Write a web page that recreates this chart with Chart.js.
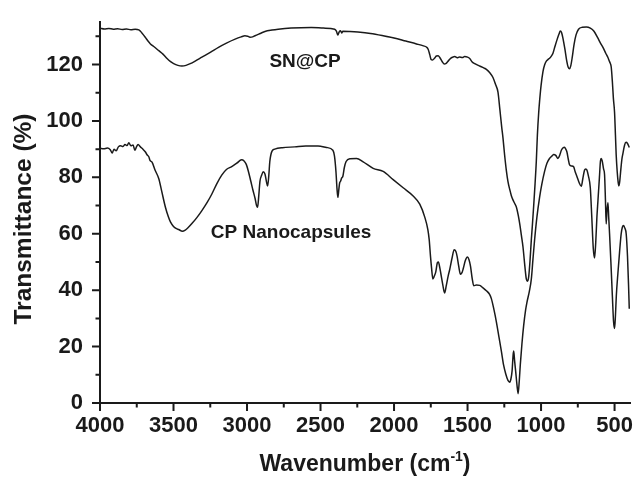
<!DOCTYPE html>
<html>
<head>
<meta charset="utf-8">
<script src="https://cdn.jsdelivr.net/npm/chart.js@4.4.1/dist/chart.umd.min.js"></script>
<style>
  html, body { margin: 0; padding: 0; background: #fff; }
  #wrap { width: 638px; height: 478px; }
</style>
</head>
<body>
<div id="wrap"><canvas id="ftir"></canvas></div>
<script>
// SN@CP spectrum (wavenumber, transmittance)
const snWave = [4000, 3970, 3940, 3910, 3880, 3850, 3820, 3790, 3760, 3736, 3715, 3691, 3675, 3657, 3630, 3600, 3570, 3544, 3520, 3499,
  3470, 3443, 3415, 3386, 3350, 3307, 3250, 3194, 3140, 3081, 3040, 3014, 2995, 2980, 2962, 2946, 2910, 2878, 2830, 2788,
  2700, 2563, 2480, 2404, 2392, 2382, 2373, 2364, 2356, 2348, 2300, 2246, 2160, 2074, 2000, 1920, 1847, 1800, 1780, 1768,
  1757, 1748, 1738, 1725, 1712, 1700, 1688, 1672, 1658, 1648, 1632, 1615, 1600, 1587, 1570, 1555, 1535, 1520, 1500, 1485,
  1470, 1451, 1420, 1390, 1372, 1350, 1327, 1310, 1293, 1280, 1268, 1259, 1248, 1236, 1225, 1212, 1202, 1191, 1180, 1168,
  1155, 1145, 1134, 1123, 1112, 1100, 1092, 1084, 1075, 1066, 1059, 1050, 1041, 1032, 1025, 1016, 1010, 1000, 987, 975,
  964, 952, 942, 930, 919, 905, 890, 878, 869, 860, 850, 838, 826, 815, 806, 798, 788, 776, 762, 745,
  720, 692, 665, 640, 615, 595, 579, 560, 545, 538, 530, 523, 515, 508, 500, 494, 489, 482, 476, 471,
  465, 457, 450, 443, 432, 422, 412, 400];
const snT = [132.9, 132.6, 132.8, 132.5, 132.7, 132.4, 132.6, 132.3, 132.5, 132.3, 131.2, 129.6, 128.4, 127.3, 126.2, 124.9, 123.6, 122.1, 121.0, 120.3,
  119.7, 119.5, 119.7, 120.3, 121.3, 122.6, 124.3, 126.1, 127.6, 129.0, 129.8, 130.2, 130.0, 129.7, 129.8, 130.2, 131.0, 131.7, 132.2, 132.5,
  132.9, 133.1, 132.9, 132.5, 131.8, 130.5, 131.6, 132.0, 131.2, 131.8, 131.7, 131.5, 131.0, 130.2, 129.4, 128.3, 127.3, 126.6, 126.2, 125.4,
  123.5, 121.8, 121.6, 122.2, 123.0, 123.1, 122.4, 121.0, 120.2, 120.3, 121.2, 122.2, 122.6, 122.8, 122.4, 122.7, 122.5, 122.8, 122.6, 122.1,
  121.0, 120.3, 119.5, 118.8, 118.3, 117.2, 115.4, 113.0, 110.2, 104.0, 98.0, 94.0, 88.0, 82.4, 78.5, 75.5, 73.5, 72.0, 70.8, 69.5,
  66.5, 63.5, 59.5, 55.4, 49.5, 43.9, 43.2, 44.8, 50.5, 58.0, 63.0, 70.0, 77.5, 86.0, 94.9, 103.0, 107.0, 112.5, 117.5, 120.0,
  121.2, 121.8, 122.2, 123.0, 124.0, 126.5, 129.0, 130.8, 131.9, 131.3, 129.0, 125.5, 121.5, 119.0, 118.5, 119.5, 122.5, 127.0, 130.5, 132.5,
  133.2, 133.3, 132.9, 131.8, 129.5, 127.5, 126.1, 124.0, 122.5, 121.5, 120.5, 119.2, 114.0, 108.0, 103.0, 95.0, 88.0, 82.0, 78.5, 77.0,
  78.5, 83.0, 86.5, 88.5, 91.4, 92.4, 92.0, 90.6];

// CP Nanocapsules spectrum (wavenumber, transmittance)
const cpWave = [4000, 3975, 3950, 3930, 3917, 3905, 3890, 3875, 3860, 3845, 3830, 3815, 3804, 3790, 3775, 3763, 3752, 3741, 3725, 3705,
  3691, 3680, 3668, 3660, 3646, 3625, 3600, 3580, 3555, 3535, 3521, 3500, 3480, 3465, 3440, 3420, 3400, 3375, 3340, 3307,
  3270, 3240, 3205, 3172, 3140, 3104, 3070, 3037, 3020, 3005, 2990, 2975, 2960, 2945, 2935, 2928, 2920, 2912, 2900, 2890,
  2878, 2868, 2860, 2852, 2845, 2830, 2811, 2760, 2675, 2600, 2517, 2460, 2416, 2405, 2395, 2388, 2382, 2376, 2370, 2364,
  2356, 2348, 2338, 2326, 2300, 2255, 2210, 2142, 2074, 2006, 1938, 1870, 1825, 1791, 1770, 1761, 1752, 1745, 1736, 1726,
  1716, 1705, 1698, 1690, 1682, 1668, 1656, 1645, 1632, 1621, 1605, 1591, 1580, 1571, 1560, 1548, 1538, 1530, 1515, 1501,
  1490, 1480, 1468, 1458, 1440, 1417, 1395, 1372, 1350, 1338, 1320, 1304, 1285, 1270, 1255, 1240, 1225, 1213, 1205, 1197,
  1190, 1186, 1180, 1173, 1163, 1156, 1148, 1141, 1130, 1118, 1105, 1096, 1080, 1066, 1055, 1044, 1028, 1010, 995, 976,
  960, 942, 925, 914, 900, 885, 872, 862, 850, 840, 832, 824, 815, 806, 792, 779, 768, 756, 740, 726,
  716, 704, 696, 688, 678, 665, 655, 645, 636, 628, 620, 613, 603, 596, 591, 584, 575, 568, 562, 557,
  552, 545, 540, 534, 525, 515, 507, 500, 494, 488, 477, 466, 455, 447, 439, 430, 421, 412, 405, 400];
const cpT = [90.3, 90.1, 90.4, 89.8, 88.6, 90.0, 89.4, 90.8, 91.2, 90.9, 91.6, 91.3, 92.3, 91.2, 91.5, 89.6, 90.8, 91.6, 90.8, 89.8,
  89.0, 88.0, 87.3, 86.0, 85.4, 82.5, 79.5, 75.0, 69.4, 66.0, 64.2, 62.6, 61.8, 61.5, 60.9, 61.3, 62.2, 63.6, 65.8, 68.2,
  71.2, 74.0, 77.8, 80.8, 82.8, 83.8, 85.0, 86.2, 85.8, 84.6, 82.0, 78.8, 75.5, 72.5, 70.0, 69.4, 73.5, 78.6, 80.8, 82.0,
  81.2, 78.5, 76.9, 80.5, 85.6, 89.3, 90.0, 90.5, 90.8, 91.1, 91.1, 90.6, 89.6, 87.5, 82.0, 76.0, 72.9, 75.5, 78.0, 78.6,
  79.8, 80.4, 83.5, 85.6, 86.6, 86.7, 85.5, 83.2, 82.1, 79.2, 76.3, 73.4, 70.5, 65.9, 61.5, 58.0, 52.0, 48.0, 44.0, 45.0,
  46.5, 49.8, 50.0, 48.3, 46.0, 41.8, 39.0, 41.5, 45.0, 47.4, 51.5, 54.3, 53.8, 52.0, 48.5, 45.6, 46.2, 47.5, 50.5, 51.8,
  50.8, 48.5, 44.0, 41.6, 41.8, 41.7, 40.8, 39.8, 38.5, 37.0, 33.0, 28.8, 23.0, 18.4, 13.5, 10.3, 8.0, 7.4, 8.5, 11.4,
  17.0, 18.4, 15.0, 11.4, 6.0, 3.3, 8.0, 13.7, 21.0, 27.6, 33.0, 35.7, 39.5, 44.0, 51.0, 57.8, 66.0, 72.9, 77.5, 82.1,
  85.0, 86.7, 87.6, 88.1, 87.8, 86.7, 88.0, 89.6, 90.5, 90.7, 90.0, 89.0, 86.5, 84.4, 84.0, 83.8, 82.0, 80.3, 78.0, 76.8,
  79.5, 82.6, 83.0, 82.6, 80.5, 76.3, 66.0, 55.0, 51.4, 57.0, 66.0, 71.7, 80.0, 85.8, 86.7, 85.8, 83.0, 80.9, 72.0, 63.5,
  68.0, 71.0, 66.0, 60.0, 50.0, 38.0, 29.0, 26.4, 31.0, 38.0, 46.2, 53.5, 60.0, 62.3, 62.9, 62.0, 60.0, 52.0, 42.0, 33.4];

const xTickLabels = [4000, 3500, 3000, 2500, 2000, 1500, 1000, 500];
const yTickLabels = [0, 20, 40, 60, 80, 100, 120];
const curveNames = ['SN@CP', 'CP Nanocapsules'];
// where each curve name sits, in data units
const nameSpots = [[2605, 121], [2700, 60.5]];

const FONT = '"Liberation Sans", Arial, Helvetica, sans-serif';
const INK = '#1a1a1a';

const toPoints = (xs, ys) => xs.map((w, i) => ({ x: w, y: ys[i] }));

// minor/major ticks, curve names, and both axis titles (x one has a superscript)
const axisDecor = {
  id: 'axisDecor',
  afterDraw(chart) {
    const { ctx, chartArea: a, scales: { x, y } } = chart;
    ctx.save();
    ctx.strokeStyle = INK;
    ctx.lineWidth = 2;
    ctx.beginPath();
    for (let v = 500; v <= 4000; v += 250) {
      const px = x.getPixelForValue(v);
      const len = xTickLabels.includes(v) ? 8 : 4.5;
      ctx.moveTo(px, a.bottom);
      ctx.lineTo(px, a.bottom + len);
    }
    for (let v = 0; v <= 130; v += 10) {
      const py = y.getPixelForValue(v);
      const len = yTickLabels.includes(v) ? 8 : 4.5;
      ctx.moveTo(a.left, py);
      ctx.lineTo(a.left - len, py);
    }
    ctx.stroke();

    ctx.fillStyle = INK;
    ctx.font = 'bold 19px ' + FONT;
    ctx.textAlign = 'center';
    ctx.textBaseline = 'middle';
    curveNames.forEach((name, i) => {
      ctx.fillText(name, x.getPixelForValue(nameSpots[i][0]), y.getPixelForValue(nameSpots[i][1]));
    });

    // y title
    ctx.save();
    ctx.translate(24, 219);
    ctx.rotate(-Math.PI / 2);
    ctx.font = 'bold 24.5px ' + FONT;
    ctx.fillText('Transmittance (%)', 0, 0);
    ctx.restore();

    // x title
    const big = 'bold 23px ' + FONT, small = 'bold 14px ' + FONT;
    const head = 'Wavenumber (cm', sup = '-1', tail = ')';
    ctx.font = big;
    const wHead = ctx.measureText(head).width, wTail = ctx.measureText(tail).width;
    ctx.font = small;
    const wSup = ctx.measureText(sup).width;
    let cx = (a.left + a.right) / 2 - (wHead + wSup + wTail) / 2;
    const base = 471;
    ctx.textAlign = 'left';
    ctx.textBaseline = 'alphabetic';
    ctx.font = big;
    ctx.fillText(head, cx, base);
    cx += wHead;
    ctx.font = small;
    ctx.fillText(sup, cx, base - 10);
    cx += wSup;
    ctx.font = big;
    ctx.fillText(tail, cx, base);
    ctx.restore();
  }
};

new Chart(document.getElementById('ftir'), {
  type: 'line',
  data: {
    datasets: [
      { label: curveNames[0], data: toPoints(snWave, snT) },
      { label: curveNames[1], data: toPoints(cpWave, cpT) }
    ]
  },
  options: {
    responsive: true,
    maintainAspectRatio: false,
    animation: false,
    layout: { padding: { top: 15, right: 8, left: 0, bottom: 0 } },
    elements: {
      line: { borderColor: INK, borderWidth: 1.5, cubicInterpolationMode: 'monotone', fill: false },
      point: { radius: 0 }
    },
    plugins: { legend: { display: false }, tooltip: { enabled: false } },
    scales: {
      x: {
        type: 'linear',
        reverse: true,
        min: 395,
        max: 4000,
        afterFit: s => { s.height = 75; },
        afterBuildTicks: s => { s.ticks = xTickLabels.map(v => ({ value: v })); },
        grid: { display: true, drawOnChartArea: false, color: 'rgba(0,0,0,0)', tickLength: 8 },
        border: { display: true, color: INK, width: 2 },
        ticks: {
          autoSkip: false, maxRotation: 0, padding: 2, color: INK,
          font: { family: FONT, size: 22, weight: 'bold' },
          callback: v => String(v)
        }
      },
      y: {
        min: 0,
        max: 135,
        afterFit: s => { s.width = 100; },
        afterBuildTicks: s => { s.ticks = yTickLabels.map(v => ({ value: v })); },
        grid: { display: true, drawOnChartArea: false, color: 'rgba(0,0,0,0)', tickLength: 8 },
        border: { display: true, color: INK, width: 2 },
        ticks: {
          padding: 9, color: INK,
          font: { family: FONT, size: 22, weight: 'bold' },
          callback: v => String(v)
        }
      }
    }
  },
  plugins: [axisDecor]
});
</script>
</body>
</html>
